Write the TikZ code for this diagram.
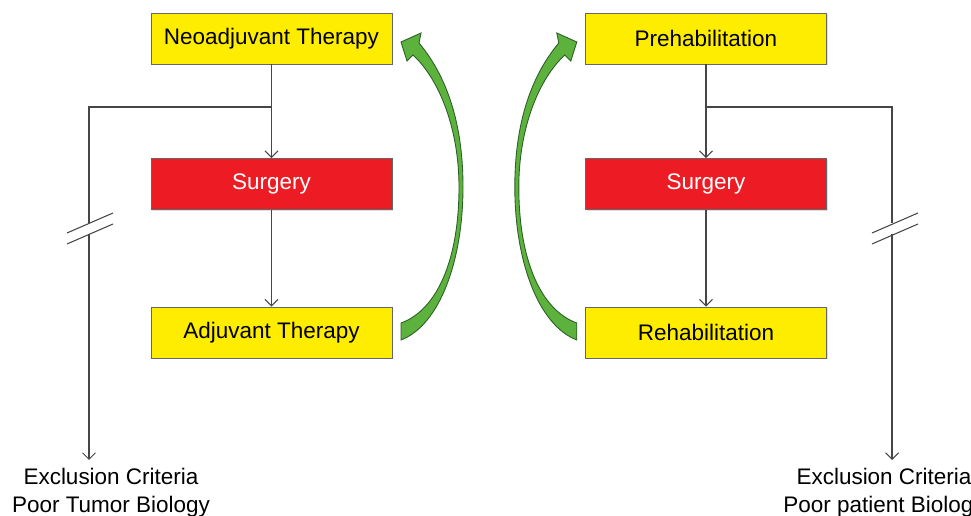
\documentclass[tikz,border=0pt]{standalone}
\usepackage{fontspec}
\setmainfont{Liberation Sans}
\usetikzlibrary{arrows.meta,shadows}
\definecolor{boxyellow}{RGB}{255,237,0}
\definecolor{boxred}{RGB}{237,28,36}
\definecolor{arrowgreen}{RGB}{92,178,60}
\definecolor{arrowedge}{RGB}{45,95,40}
\definecolor{linegray}{RGB}{70,70,70}

% curved green arrow, drawn in pixel units
\newcommand{\greenloop}{(401,340) .. controls (440,325) and (463,260) .. (463,187)
    .. controls (463,130) and (450,80) .. (419,43) -- (421,33) -- (401,42) -- (407,61) -- (413,55)
    .. controls (440,80) and (459,130) .. (459,187)
    .. controls (459,260) and (437,310) .. (401,323) -- cycle}

\begin{document}
\begin{tikzpicture}[x=0.02cm, y=-0.02cm,
    stage/.style={draw=gray!80!black, line width=0.5pt, minimum width=4.82cm, minimum height=1.02cm, inner sep=0pt,
        font=\fontsize{12.8}{15.9}\selectfont, drop shadow={opacity=0.25, shadow xshift=0.7pt, shadow yshift=-0.7pt}},
    yellowbox/.style={stage, fill=boxyellow},
    redbox/.style={stage, fill=boxred, text=white},
    branch/.style={draw=linegray, line width=0.6pt},
    flow/.style={branch, -{Straight Barb[length=1.3mm, width=2.6mm]}},
    greenarrow/.style={fill=arrowgreen, draw=arrowedge, line width=0.5pt},
    note/.style={align=center, inner sep=0pt, anchor=north, font=\fontsize{12.8}{15.9}\selectfont}]

    \useasboundingbox (0,0) rectangle (971,516);

    % left column
    \node[yellowbox] (neo) at (271.5,38.5) {Neoadjuvant Therapy};
    \node[redbox] (lsurg) at (271.5,184) {Surgery};
    \node[yellowbox] (adj) at (271.5,332.5) {Adjuvant Therapy};
    \node[note] (ltext) at (111,468) {Exclusion Criteria\\Poor Tumor Biology};

    \draw[flow] (neo) -- (lsurg);
    \draw[flow] (lsurg) -- (adj);

    \coordinate (lsplit) at (neo.south |- 0,107);
    \coordinate (lcut1) at (89,223);
    \coordinate (lcut2) at (89,234);
    \coordinate (lend) at (89,460);
    \draw[branch] (lsplit) -| (lcut1);
    \draw[flow] (lcut2) -- (lend);
    \draw[branch] (lcut1) ++(-22,10) -- ++(46,-20); % break marks
    \draw[branch] (lcut2) ++(-22,10) -- ++(46,-20);

    % right column
    \node[yellowbox] (pre) at (706,38.5) {Prehabilitation};
    \node[redbox] (rsurg) at (706,184) {Surgery};
    \node[yellowbox] (rehab) at (706,332.5) {Rehabilitation};
    \node[note] (rtext) at (884,468) {Exclusion Criteria\\Poor patient Biology};

    \draw[flow] (pre) -- (rsurg);
    \draw[flow] (rsurg) -- (rehab);

    \coordinate (rsplit) at (pre.south |- 0,107);
    \coordinate (rcut1) at (892,223);
    \coordinate (rcut2) at (892,234);
    \coordinate (rend) at (892,460);
    \draw[branch] (rsplit) -| (rcut1);
    \draw[flow] (rcut2) -- (rend);
    \draw[branch] (rcut1) ++(-20,10) -- ++(46,-20); % break marks
    \draw[branch] (rcut2) ++(-20,10) -- ++(46,-20);

    % green arrows between the columns
    \path[greenarrow] \greenloop;
    \begin{scope}[xshift=19.56cm, xscale=-1]
        \path[greenarrow] \greenloop;
    \end{scope}
\end{tikzpicture}
\end{document}
